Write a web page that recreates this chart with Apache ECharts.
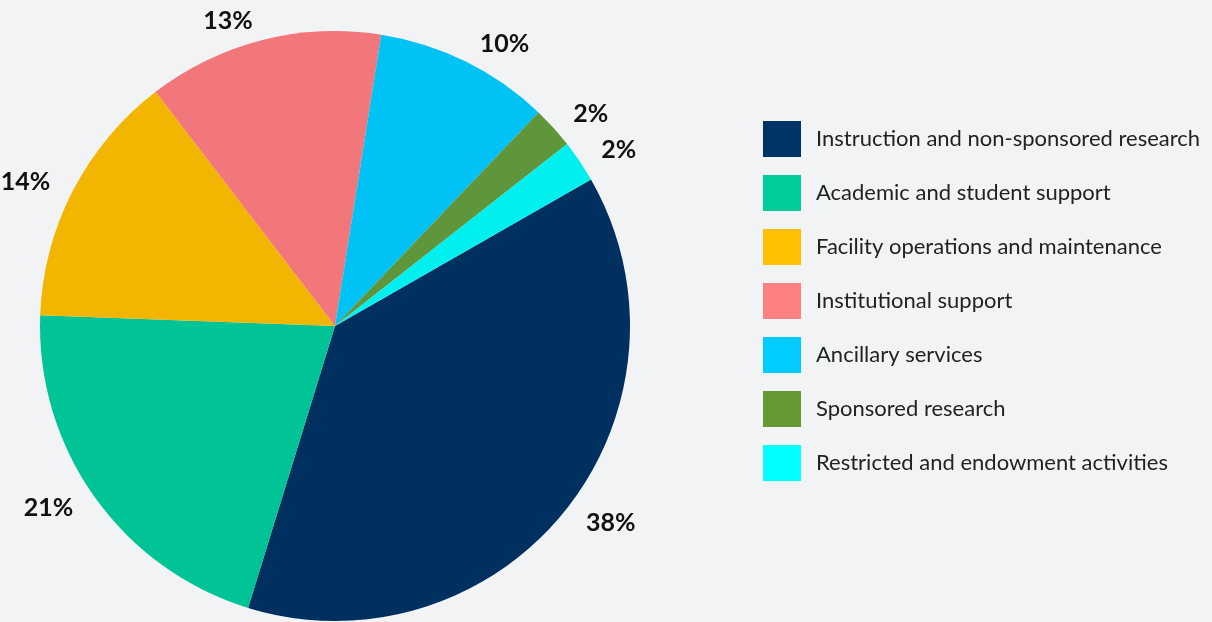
<!DOCTYPE html>
<html>
<head>
<meta charset="utf-8">
<script src="https://cdn.jsdelivr.net/npm/echarts@6/dist/echarts.min.js"></script>
<style>
  html, body { margin: 0; padding: 0; background: #f2f3f5; }
  .pie { width: 1212px; height: 622px; }
</style>
</head>
<body>
<div class="pie"></div>
<script>
// 类别
const categories = [
  'Instruction and non-sponsored research',
  'Academic and student support',
  'Facility operations and maintenance',
  'Institutional support',
  'Ancillary services',
  'Sponsored research',
  'Restricted and endowment activities'
]
// 占比 %
const shares = [38.0, 20.8, 14.0, 12.9, 9.6, 2.3, 2.3]
// 扇区颜色 / 图例颜色
const sliceColors = ['#003060', '#00c496', '#f2b600', '#f2777b', '#00c2f5', '#5f963c', '#00f0f0']
const legendColors = ['#003366', '#00cc99', '#ffc000', '#ff8080', '#00ccff', '#669933', '#00ffff']

const mycharts = echarts.init(document.querySelector('.pie'))
const option = {
  backgroundColor: '#f2f3f5',
  legend: {
    orient: 'vertical',
    left: 763,
    top: 121,
    padding: 0,
    itemWidth: 38,
    itemHeight: 36,
    itemGap: 18,
    icon: 'rect',
    textStyle: {
      fontFamily: 'Lato',
      fontSize: 22,
      color: '#222',
      padding: [0, 0, 0, 10]
    },
    data: categories.map((name, i) => ({
      name: name,
      itemStyle: { color: legendColors[i] }
    }))
  },
  series: [
    {
      type: 'pie',
      center: [335, 326],
      radius: [0, 295],
      startAngle: 29.8,
      clockwise: true,
      percentPrecision: 0,
      avoidLabelOverlap: false,
      label: {
        show: true,
        position: 'outside',
        formatter: '{d}%',
        fontFamily: 'Lato',
        fontWeight: 'bold',
        fontSize: 25,
        color: '#111'
      },
      labelLine: {
        show: false,
        length: 20,
        length2: 0
      },
      emphasis: { disabled: true },
      data: categories.map((name, i) => ({
        name: name,
        value: shares[i],
        itemStyle: { color: sliceColors[i] }
      }))
    }
  ]
}
mycharts.setOption(option)
</script>
</body>
</html>
